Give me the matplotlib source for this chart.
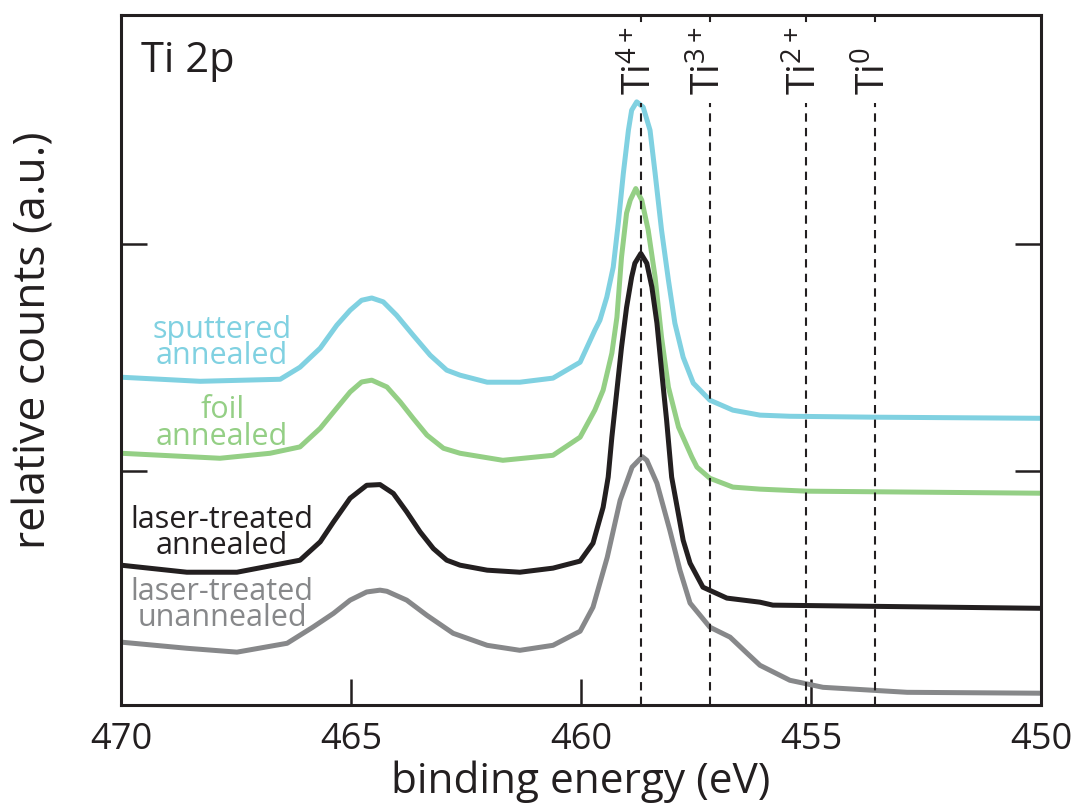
import numpy as np
import matplotlib
matplotlib.use('Agg')
import matplotlib.pyplot as plt

plt.rcParams['font.family'] = ['Open Sans', 'DejaVu Sans']
plt.rcParams['mathtext.fontset'] = 'custom'
plt.rcParams['mathtext.rm'] = 'Open Sans'
plt.rcParams['mathtext.it'] = 'Open Sans'

# --------------------------------- spectra ----------------------------------#
# Ti 2p XPS, binding energy (eV) vs relative counts (offset for display)
sputtered_energy = [470.00, 468.28, 466.54, 466.11, 465.67, 465.31, 465.02, 464.77, 464.55,
                    464.30, 464.01, 463.65, 463.28, 462.92, 462.63, 462.04, 461.33, 460.61,
                    460.02, 459.70, 459.59, 459.44, 459.30, 459.19, 459.08, 458.97, 458.90,
                    458.79, 458.65, 458.50, 458.39, 458.25, 458.10, 457.96, 457.78, 457.56,
                    457.20, 456.70, 456.11, 455.46, 453.65, 450.00]
sputtered_counts = [1.414, 1.396, 1.405, 1.458, 1.542, 1.643, 1.709, 1.753, 1.763,
                    1.746, 1.687, 1.599, 1.511, 1.445, 1.423, 1.392, 1.392, 1.410,
                    1.480, 1.621, 1.665, 1.767, 1.899, 2.093, 2.313, 2.502, 2.590,
                    2.627, 2.604, 2.502, 2.313, 2.062, 1.841, 1.652, 1.502, 1.388,
                    1.313, 1.269, 1.247, 1.242, 1.238, 1.233]

foil_energy = [470.00, 467.85, 466.76, 466.11, 465.67, 465.31, 465.02, 464.77, 464.55,
               464.22, 463.93, 463.65, 463.35, 462.99, 462.63, 461.70, 460.61, 460.02,
               459.70, 459.52, 459.33, 459.22, 459.12, 459.01, 458.93, 458.81, 458.68,
               458.54, 458.39, 458.25, 458.10, 457.88, 457.59, 457.48, 457.20, 456.70,
               456.11, 455.09, 450.00]
foil_counts = [1.079, 1.057, 1.079, 1.107, 1.189, 1.278, 1.349, 1.393, 1.401,
               1.371, 1.305, 1.233, 1.159, 1.101, 1.079, 1.048, 1.070, 1.150,
               1.269, 1.357, 1.520, 1.678, 1.943, 2.137, 2.194, 2.245, 2.194,
               2.062, 1.855, 1.590, 1.370, 1.194, 1.062, 1.018, 0.969, 0.930,
               0.921, 0.912, 0.903]

laser_ann_energy = [470.00, 468.57, 467.48, 466.11, 465.67, 465.38, 465.02, 464.66, 464.37,
                    464.08, 463.79, 463.50, 463.21, 462.92, 462.63, 462.04, 461.33, 460.61,
                    460.02, 459.74, 459.52, 459.41, 459.33, 459.22, 459.12, 459.01, 458.90,
                    458.83, 458.70, 458.57, 458.46, 458.35, 458.25, 458.14, 458.03, 457.91,
                    457.78, 457.63, 457.35, 456.83, 456.11, 455.83, 450.00]
laser_ann_counts = [0.586, 0.555, 0.555, 0.608, 0.689, 0.777, 0.881, 0.938, 0.941,
                    0.902, 0.821, 0.733, 0.659, 0.608, 0.586, 0.564, 0.555, 0.573,
                    0.604, 0.683, 0.841, 0.974, 1.150, 1.357, 1.546, 1.722, 1.855,
                    1.916, 1.959, 1.916, 1.811, 1.652, 1.445, 1.225, 0.974, 0.841,
                    0.696, 0.595, 0.489, 0.441, 0.423, 0.410, 0.396]

laser_unann_energy = [470.00, 468.57, 467.48, 466.39, 465.83, 465.38, 465.02, 464.66, 464.37,
                      464.22, 463.79, 463.35, 462.78, 462.04, 461.33, 460.61, 460.02, 459.74,
                      459.43, 459.15, 458.89, 458.67, 458.57, 458.35, 458.07, 457.85, 457.63,
                      457.20, 456.76, 456.39, 456.11, 455.46, 454.74, 452.91, 450.00]
laser_unann_counts = [0.247, 0.220, 0.203, 0.242, 0.313, 0.374, 0.432, 0.468, 0.476,
                      0.471, 0.432, 0.365, 0.286, 0.233, 0.211, 0.233, 0.295, 0.401,
                      0.621, 0.872, 1.018, 1.064, 1.048, 0.947, 0.740, 0.564, 0.419,
                      0.313, 0.269, 0.198, 0.145, 0.079, 0.048, 0.026, 0.022]

# reference oxidation-state positions
state_labels = [r'Ti$^{4+}$', r'Ti$^{3+}$', r'Ti$^{2+}$', r'Ti$^{0}$']
state_energy = [458.7, 457.2, 455.1, 453.6]

series_labels = ['sputtered\nannealed', 'foil\nannealed',
                 'laser-treated\nannealed', 'laser-treated\nunannealed']
label_counts = [1.564, 1.211, 0.727, 0.410]

colors = ['#80d1e1', '#94cf85', '#231f20', '#87888a']
ink = '#231f20'

# --------------------------------- plot ----------------------------------#
fig = plt.figure(figsize=(10.76, 8.10), dpi=100)
ax = fig.add_axes([0.1125, 0.1296, 0.855, 0.852])

curves = [(sputtered_energy, sputtered_counts),
          (foil_energy, foil_counts),
          (laser_ann_energy, laser_ann_counts),
          (laser_unann_energy, laser_unann_counts)]
for (e, c), col in zip(curves, colors):
    ax.plot(e, c, color=col, lw=3.6, solid_joinstyle='round', zorder=2)

for lab, y, col in zip(series_labels, label_counts, colors):
    ax.text(467.8, y, lab, color=col, fontsize=22, ha='center', va='center',
            linespacing=0.85, zorder=4)

# dashed markers stop below the rotated labels, with a short stub at the top
for lab, e in zip(state_labels, state_energy):
    ax.plot([e, e], [-0.03, 2.62], color=ink, lw=1.5, dashes=(4, 3), zorder=3)
    ax.plot([e, e], [2.985, 3.01], color=ink, lw=1.5, zorder=3)
    ax.text(e, 2.655, lab, rotation=90, ha='center', va='bottom', fontsize=28,
            color=ink, zorder=5)

ax.text(0.022, 0.964, 'Ti 2p', transform=ax.transAxes, fontsize=30,
        ha='left', va='top', color=ink)

ax.set_xlim(470, 450)
ax.set_ylim(-0.03, 3.01)
ax.set_xticks([470, 465, 460, 455, 450])
ax.set_yticks([1, 2])
ax.set_yticklabels([])
ax.tick_params(axis='x', direction='in', length=19, width=1.8, color=ink,
               labelsize=26, labelcolor=ink, pad=12)
ax.tick_params(axis='y', direction='in', length=19, width=1.8, color=ink,
               left=True, right=True)
for sp in ax.spines.values():
    sp.set_linewidth(2.2)
    sp.set_color(ink)

ax.set_xlabel('binding energy (eV)', fontsize=30.5, color=ink, labelpad=2)
ax.set_ylabel('relative counts (a.u.)', fontsize=32, color=ink)
ax.yaxis.set_label_coords(-0.07, 0.529)

fig.savefig('out.png', dpi=100)
plt.close('all')
